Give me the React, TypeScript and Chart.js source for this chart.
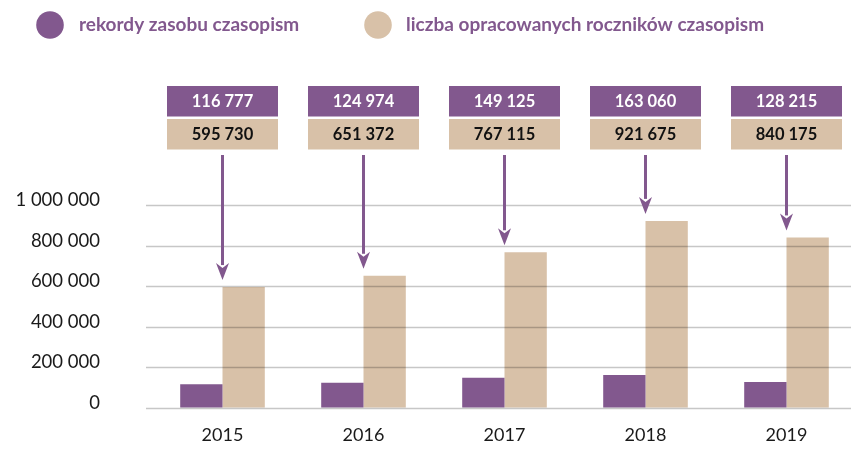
import React, { useEffect, useRef } from 'react';
import { Chart, registerables } from 'chart.js';

Chart.register(...registerables);

const years = ['2015', '2016', '2017', '2018', '2019'];
const records = [116777, 124974, 149125, 163060, 128215];
const volumes = [595730, 651372, 767115, 921675, 840175];
const yTicks = [0, 200000, 400000, 600000, 800000, 1000000];
const legendLabels = ['rekordy zasobu czasopism', 'liczba opracowanych roczników czasopism'];

const PURPLE = '#82588e';
const BEIGE = '#d8c1a8';
const FONT = "Lato, 'Noto Sans', sans-serif";

const fmt = (v: number) => String(v).replace(/\B(?=(\d{3})+(?!\d))/g, ' ');

const overlay = {
  id: 'overlay',
  afterDatasetsDraw(chart: any) {
    const { ctx, chartArea, scales } = chart;
    const y = scales.y;
    ctx.save();
    ctx.strokeStyle = 'rgba(0,0,0,0.22)';
    ctx.lineWidth = 1.3;
    yTicks.forEach((t) => {
      const py = Math.round(y.getPixelForValue(t)) + 0.5;
      ctx.beginPath();
      ctx.moveTo(chartArea.left - 6, py);
      ctx.lineTo(chartArea.right, py);
      ctx.stroke();
    });
    ctx.restore();
  },
  afterDraw(chart: any) {
    const { ctx, scales } = chart;
    const x = scales.x;
    ctx.save();
    // legend
    const legendPos = [
      { cx: 50, tx: 79 },
      { cx: 378, tx: 406 },
    ];
    const legendColors = [PURPLE, BEIGE];
    legendLabels.forEach((lbl, i) => {
      ctx.fillStyle = legendColors[i];
      ctx.beginPath();
      ctx.arc(legendPos[i].cx, 25, 13.8, 0, Math.PI * 2);
      ctx.fill();
      ctx.fillStyle = PURPLE;
      ctx.font = `bold 19px ${FONT}`;
      ctx.textAlign = 'left';
      ctx.textBaseline = 'middle';
      ctx.fillText(lbl, legendPos[i].tx, 25);
    });
    // boxes and arrows
    const meta = chart.getDatasetMeta(1);
    years.forEach((_, i) => {
      const cx = x.getPixelForValue(i);
      const w = 111;
      ctx.fillStyle = PURPLE;
      ctx.fillRect(cx - w / 2, 86, w, 30.5);
      ctx.fillStyle = BEIGE;
      ctx.fillRect(cx - w / 2, 119, w, 30.5);
      ctx.font = `bold 16.5px ${FONT}`;
      ctx.textAlign = 'center';
      ctx.textBaseline = 'middle';
      ctx.fillStyle = '#ffffff';
      ctx.fillText(fmt(records[i]), cx, 101.5);
      ctx.fillStyle = '#111111';
      ctx.fillText(fmt(volumes[i]), cx, 134.5);

      const barTop = meta.data[i].y;
      const tip = barTop - 7;
      const headH = 17;
      const headW = 13;
      ctx.strokeStyle = PURPLE;
      ctx.lineWidth = 3;
      ctx.beginPath();
      ctx.moveTo(cx, 155);
      ctx.lineTo(cx, tip - headH + 2);
      ctx.stroke();
      ctx.fillStyle = PURPLE;
      ctx.beginPath();
      ctx.moveTo(cx - headW / 2, tip - headH);
      ctx.lineTo(cx, tip - headH + 5);
      ctx.lineTo(cx + headW / 2, tip - headH);
      ctx.lineTo(cx, tip);
      ctx.closePath();
      ctx.fill();
    });
    ctx.restore();
  },
};

export default function App() {
  const ref = useRef<HTMLCanvasElement | null>(null);

  useEffect(() => {
    if (!ref.current) return;
    const chart = new Chart(ref.current, {
      type: 'bar',
      data: {
        labels: years,
        datasets: [
          { label: legendLabels[0], data: records, backgroundColor: PURPLE },
          { label: legendLabels[1], data: volumes, backgroundColor: BEIGE },
        ],
      },
      options: {
        responsive: false,
        animation: false,
        layout: { padding: { top: 205, left: 0, right: 0, bottom: 0 } },
        datasets: { bar: { categoryPercentage: 0.6, barPercentage: 1.0 } },
        plugins: { legend: { display: false }, tooltip: { enabled: false } },
        scales: {
          x: {
            grid: { display: false, drawTicks: false },
            border: { display: false },
            ticks: { color: '#1a1a1a', font: { family: FONT, size: 18 }, padding: 16 },
            afterFit: (s: any) => { s.height = 56; },
          },
          y: {
            min: 0,
            max: 1000000,
            grid: { display: true, color: 'rgba(0,0,0,0)', drawTicks: true, tickLength: 52 },
            border: { display: false },
            ticks: {
              stepSize: 200000,
              color: '#1a1a1a',
              font: { family: FONT, size: 18.5 },
              padding: 0,
              labelOffset: -5,
              callback: (v: any) => fmt(Number(v)),
            },
            afterFit: (s: any) => { s.width = 152; },
          },
        },
      },
      plugins: [overlay],
    } as any);
    return () => chart.destroy();
  }, []);

  return (
    <div style={{ position: 'fixed', left: 0, top: 0, width: 851, height: 464, overflow: 'hidden', background: '#fff' }}>
      <canvas ref={ref} width={857} height={464} style={{ width: 857, height: 464, display: 'block' }} />
    </div>
  );
}
